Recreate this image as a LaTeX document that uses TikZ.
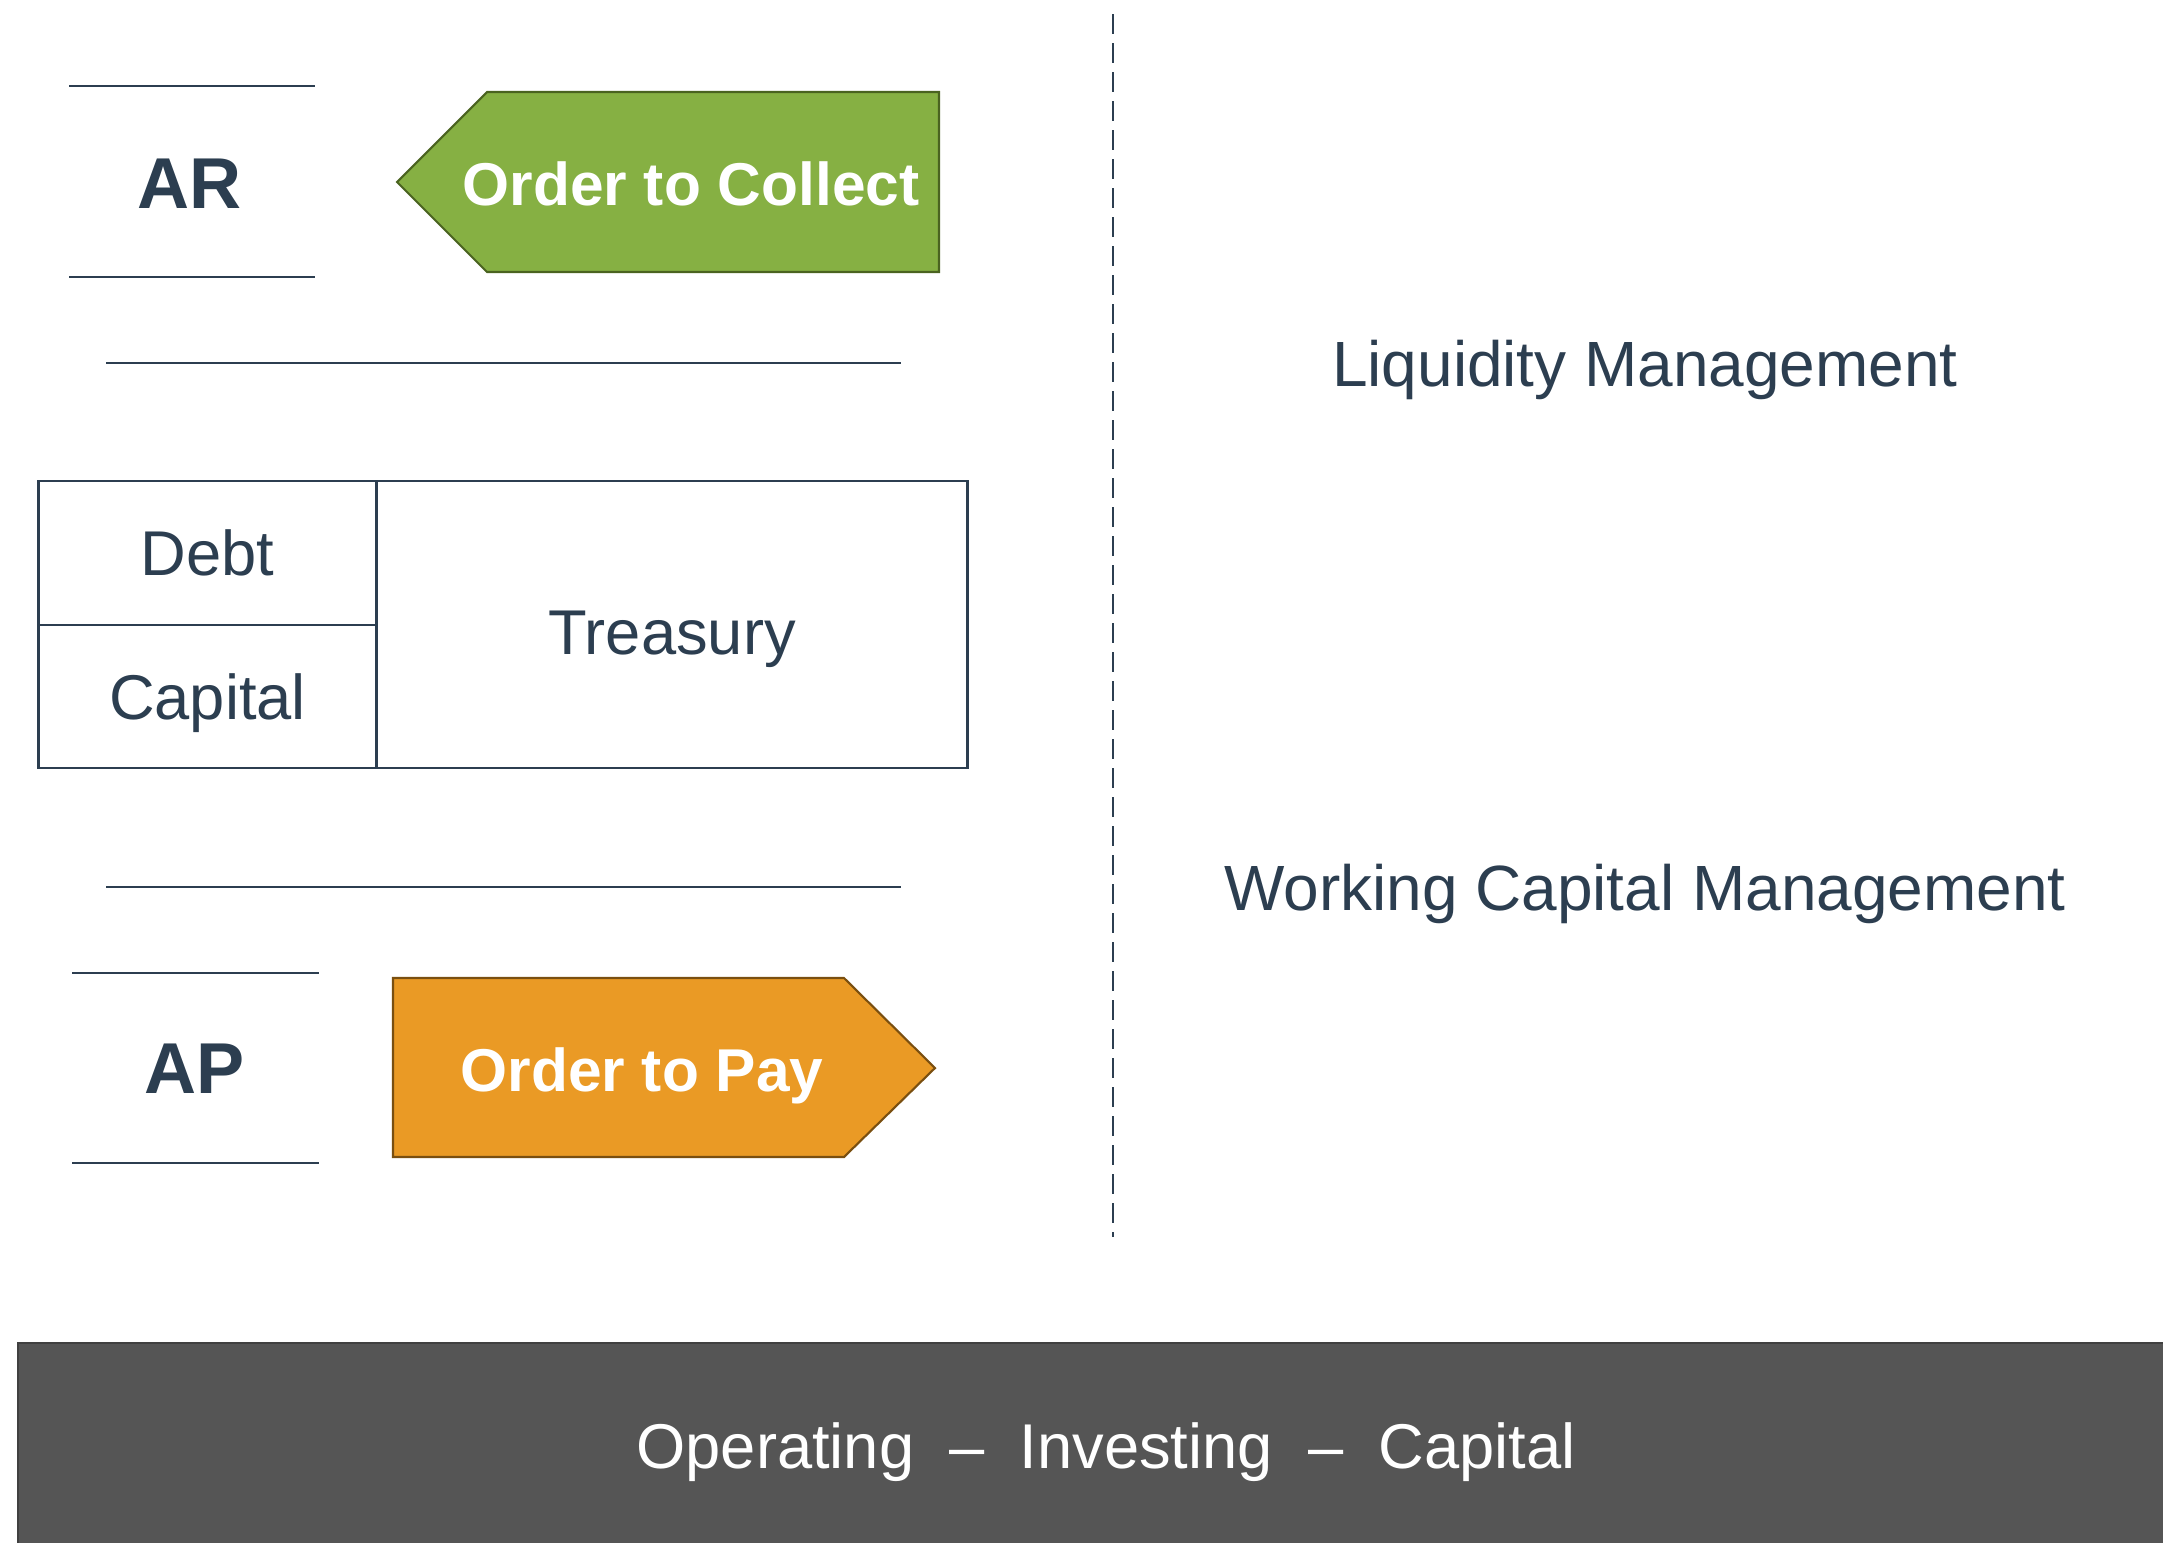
\documentclass[tikz,border=0pt]{standalone}
\usepackage{fontspec}
\setmainfont{Liberation Sans}
\usepackage{tikz}
\usetikzlibrary{positioning}
\definecolor{navy}{HTML}{2C3E50}
\definecolor{leaf}{HTML}{86B043}
\definecolor{leafline}{HTML}{4A6320}
\definecolor{amber}{HTML}{EA9A25}
\definecolor{amberline}{HTML}{7A4F10}
\definecolor{slab}{HTML}{555555}
\tikzset{
  label/.style   = {text=navy, font=\fontsize{18.2}{22}\selectfont, inner sep=0pt, anchor=base},
  side/.style    = {text=navy, font=\bfseries\fontsize{20.5}{24}\selectfont, inner sep=0pt, anchor=base},
  flowtext/.style= {text=white, font=\bfseries\fontsize{17.2}{21}\selectfont, inner sep=0pt, anchor=base},
  cell/.style    = {draw=navy, line width=0.7pt, text=navy, inner sep=0pt, outer sep=0pt,
                    text height=13pt, text depth=0pt,
                    font=\fontsize{18}{22}\selectfont},
  rule/.style    = {draw=navy, line width=0.8pt},
  thinrule/.style= {draw=navy, line width=0.5pt},
  green/.style   = {fill=leaf, draw=leafline, line width=0.6pt},
  orange/.style  = {fill=amber, draw=amberline, line width=0.6pt}
}

\begin{document}
\begin{tikzpicture}[x=0.1mm, y=-0.1mm]
  \useasboundingbox (0,0) rectangle (2163,1542);

  % accounts receivable
  \coordinate (arTL) at (69,86);   \coordinate (arTR) at (315,86);
  \coordinate (arBL) at (69,277);  \coordinate (arBR) at (315,277);
  \draw[rule] (arTL) -- (arTR);
  \draw[rule] (arBL) -- (arBR);
  \node[side] (ar) at (190,208) {AR};
  \draw[green] (397,182) -- (487,92) -- (939,92) -- (939,272) -- (487,272) -- cycle;
  \node[flowtext] (collect) at (691,205) {Order to Collect};

  \coordinate (s1L) at (106,363); \coordinate (s1R) at (901,363);
  \draw[thinrule] (s1L) -- (s1R);

  % treasury block
  \node[cell, minimum width=33.8mm, minimum height=14.4mm] (debt) at (207.6,553) {Debt};
  \node[cell, minimum width=33.8mm, minimum height=14.3mm, below=0pt of debt] (capital) {Capital};
  \node[cell, minimum width=59.1mm, minimum height=28.7mm, anchor=north west, text height=17pt]
       (treasury) at (debt.north east) {Treasury};

  \coordinate (s2L) at (106,887); \coordinate (s2R) at (901,887);
  \draw[thinrule] (s2L) -- (s2R);

  % accounts payable
  \coordinate (apTL) at (72,973);  \coordinate (apTR) at (319,973);
  \coordinate (apBL) at (72,1163); \coordinate (apBR) at (319,1163);
  \draw[rule] (apTL) -- (apTR);
  \draw[rule] (apBL) -- (apBR);
  \node[side] (ap) at (195,1093) {AP};
  \draw[orange] (393,978) -- (844,978) -- (935,1068) -- (844,1157) -- (393,1157) -- cycle;
  \node[flowtext] (pay) at (642,1091) {Order to Pay};

  % divider
  \coordinate (divT) at (1113,14); \coordinate (divB) at (1113,1237);
  \draw[draw=navy, line width=0.6pt, dash pattern=on 2mm off 0.9mm] (divT) -- (divB);

  \node[label] (liquidity) at (1645,386) {Liquidity Management};
  \node[label] (working) at (1645,910) {Working Capital Management};

  % cash flow bar
  \fill[slab] (18,1343) rectangle (2180,1560);
  \draw[draw=black!75, line width=0.7pt] (2180,1343) -- (18,1343) -- (18,1560);
  \node[label, text=white, font=\fontsize{18}{22}\selectfont] (flows) at (1106,1468)
       {Operating\hspace{10pt}--\hspace{10pt}Investing\hspace{10pt}--\hspace{10pt}Capital};
\end{tikzpicture}
\end{document}
